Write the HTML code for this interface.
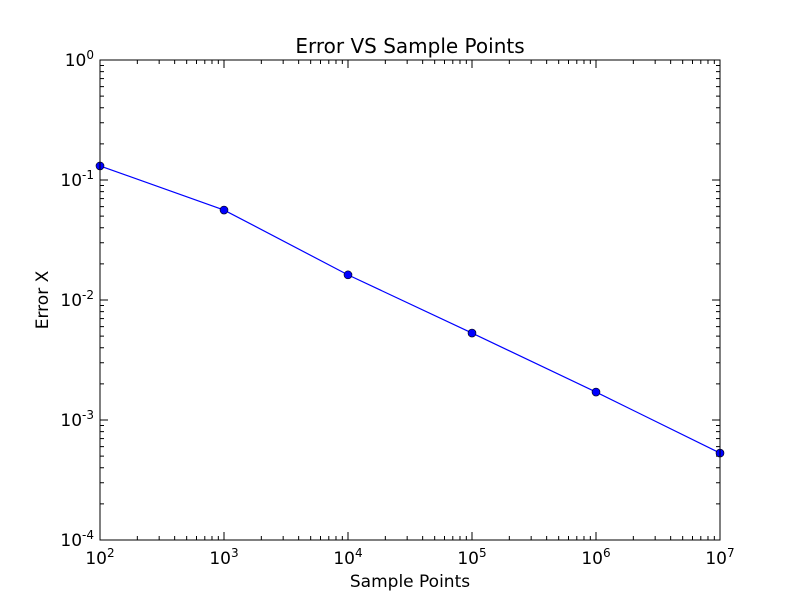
<!DOCTYPE html>
<html><head><meta charset="utf-8"><style>
body{margin:0;background:#fff}
svg text{font-family:"DejaVu Sans","Liberation Sans",sans-serif;fill:#000}
</style></head><body>
<svg id="chart" width="800" height="600" viewBox="0 0 800 600" xmlns="http://www.w3.org/2000/svg">
<rect width="800" height="600" fill="#fff"/>
<g id="grid"></g>
<g id="marks"></g>
<rect x="100" y="60" width="620" height="480" fill="none" stroke="#000" stroke-width="1"/>
<text x="410" y="53" text-anchor="middle" font-size="20">Error VS Sample Points</text>
<text x="410" y="587" text-anchor="middle" font-size="17">Sample Points</text>
<text transform="translate(48,300) rotate(-90)" text-anchor="middle" font-size="17">Error X</text>
</svg>
<script>
const xExps=[2,3,4,5,6,7];
const yExps=[-4,-3,-2,-1,0];
const samplePoints=[1e2,1e3,1e4,1e5,1e6,1e7];
const errorValues=[0.131,0.0562,0.0162,0.0053,0.00171,0.00053];
const NS="http://www.w3.org/2000/svg";
const L=100,R=720,T=60,B=540;
const xMin=2,xMax=7,yMin=-4,yMax=0;
function xs(v){return L+(Math.log10(v)-xMin)/(xMax-xMin)*(R-L);}
function ys(v){return B-(Math.log10(v)-yMin)/(yMax-yMin)*(B-T);}
function mk(tag,attrs,parent){const e=document.createElementNS(NS,tag);for(const k in attrs)e.setAttribute(k,attrs[k]);parent.appendChild(e);return e;}
const g=document.getElementById('grid');
function label(x,y,exp,anchor,name){
  const t=mk('text',{x:x,y:y,'text-anchor':anchor,'font-size':'17'},g);
  
  
  const a=document.createElementNS(NS,'tspan');a.textContent='10';t.appendChild(a);
  const b=document.createElementNS(NS,'tspan');b.setAttribute('dy','-7');b.setAttribute('font-size','12');b.textContent=String(exp);t.appendChild(b);
}
xExps.forEach(e=>{
  const x=xs(Math.pow(10,e));
  const t1=mk('line',{x1:x,x2:x,y1:B,y2:B-8,stroke:'#000'},g);
  
  
  mk('line',{x1:x,x2:x,y1:T,y2:T+8,stroke:'#000'},g);
  label(x,B+24,e,'middle','x-tick-label');
  if(e<xMax)for(let m=2;m<10;m++){const xm=xs(m*Math.pow(10,e));
    mk('line',{x1:xm,x2:xm,y1:B,y2:B-4,stroke:'#000'},g);mk('line',{x1:xm,x2:xm,y1:T,y2:T+4,stroke:'#000'},g);}
});
yExps.forEach(e=>{
  const y=ys(Math.pow(10,e));
  const t1=mk('line',{x1:L,x2:L+8,y1:y,y2:y,stroke:'#000'},g);
  
  
  mk('line',{x1:R,x2:R-8,y1:y,y2:y,stroke:'#000'},g);
  label(L-6,y+6,e,'end','y-tick-label');
  if(e<yMax)for(let m=2;m<10;m++){const ym=ys(m*Math.pow(10,e));
    mk('line',{x1:L,x2:L+4,y1:ym,y2:ym,stroke:'#000'},g);mk('line',{x1:R,x2:R-4,y1:ym,y2:ym,stroke:'#000'},g);}
});
const mg=document.getElementById('marks');
const pts=samplePoints.map((v,i)=>xs(v)+','+ys(errorValues[i])).join(' ');
const pl=mk('polyline',{points:pts,fill:'none',stroke:'#0000ff','stroke-width':'1.2'},mg);


samplePoints.forEach((v,i)=>{
  const c=mk('circle',{cx:xs(v),cy:ys(errorValues[i]),r:4,fill:'#0000ff',stroke:'#000','stroke-width':'0.6'},mg);
  
  
});
</script>
</body></html>
